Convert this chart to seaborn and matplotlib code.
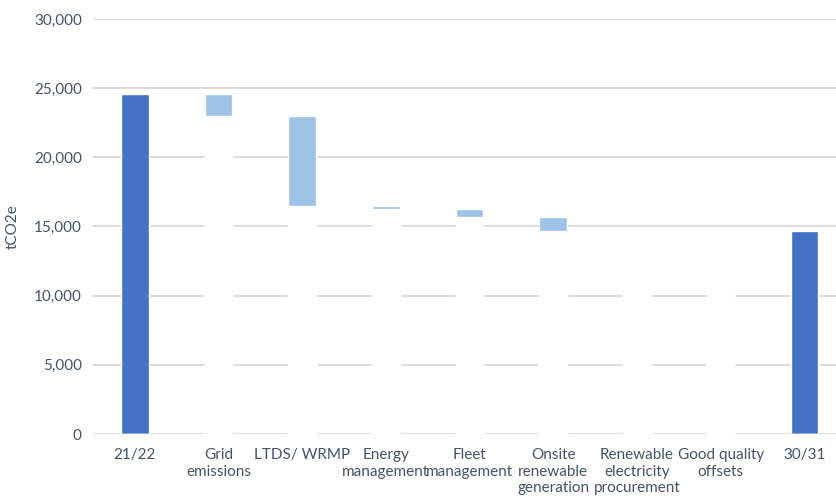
import numpy as np
import pandas as pd
import matplotlib.pyplot as plt
import seaborn as sns

categories = ["21/22", "Grid\nemissions", "LTDS/ WRMP", "Energy\nmanagement", "Fleet\nmanagement",
              "Onsite\nrenewable\ngeneration", "Renewable\nelectricity\nprocurement", "Good quality\noffsets", "30/31"]
start_value = 24600
changes = [-1650, -6450, -270, -560, -1020, 0, 0]

# waterfall: top and bottom of each bar
levels = np.cumsum([start_value] + changes)
end_value = levels[-1]
tops = [start_value] + list(np.maximum(levels[:-1], levels[1:])) + [end_value]
bottoms = [0] + list(np.minimum(levels[:-1], levels[1:])) + [0]

dark = "#4472C4"
light = "#9DC3E6"
bar_colors = [dark] + [light] * len(changes) + [dark]
text_color = "#44546A"

df = pd.DataFrame({"cat": categories, "top": tops, "bottom": bottoms})

sns.set_style("white")
plt.rcParams["font.family"] = ["Lato", "DejaVu Sans"]

fig = plt.figure(figsize=(8.37, 4.98), dpi=100)
ax = fig.add_axes([0.111, 0.1285, 0.889, 0.8335])

sns.barplot(data=df, x="cat", y="top", hue="cat", palette=bar_colors, legend=False,
            width=0.33, saturation=1, ax=ax, zorder=2)
# white base bars hide the gridlines like in the original
sns.barplot(data=df, x="cat", y="bottom", color="white", width=0.33, saturation=1,
            ax=ax, zorder=3)

ax.set_ylim(0, 30000)
ax.set_xlim(-0.5, 8.39)
ax.set_yticks(range(0, 30001, 5000))
ax.yaxis.set_major_formatter(plt.FuncFormatter(lambda v, p: f"{int(v):,}"))
ax.grid(axis="y", color="#D9D9D9", linewidth=1.3)
ax.set_axisbelow(True)
for s in ax.spines.values():
    s.set_visible(False)
ax.tick_params(axis="both", length=0, labelsize=11, labelcolor=text_color)
ax.tick_params(axis="x", pad=10)
ax.tick_params(axis="y", pad=8)
for lbl in ax.get_xticklabels():
    lbl.set_linespacing(1.25)
ax.set_xlabel("")
ax.set_ylabel("tCO2e", fontsize=11, color=text_color, labelpad=10)

fig.savefig("out.png", dpi=100)
